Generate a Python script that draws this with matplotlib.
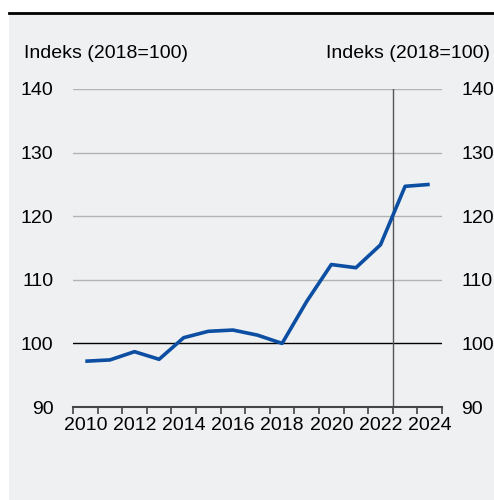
import numpy as np
import matplotlib.pyplot as plt
from matplotlib.patches import Rectangle
from matplotlib.lines import Line2D

plt.rcParams['font.family'] = ['Liberation Sans', 'DejaVu Sans']

years = [2010, 2011, 2012, 2013, 2014, 2015, 2016, 2017,
         2018, 2019, 2020, 2021, 2022, 2023, 2024]
index_vals = [97.2, 97.4, 98.7, 97.5, 100.9, 101.9, 102.1, 101.3,
              100.0, 106.6, 112.4, 111.9, 115.5, 124.7, 125.0]
y_ticks = [90, 100, 110, 120, 130, 140]
x_labels = [2010, 2012, 2014, 2016, 2018, 2020, 2022, 2024]
unit_label = 'Indeks (2018=100)'

bg = '#eff0f2'
line_col = '#0b4ea2'

fig = plt.figure(figsize=(4.94, 5.0), dpi=100)
fig.patch.set_facecolor('white')
# grey panel and the rule above it
fig.patches.append(Rectangle((9 / 494, 0), 1, 1 - 13 / 500, transform=fig.transFigure,
                             facecolor=bg, edgecolor='none', zorder=-5))
fig.lines.append(Line2D([9 / 494, 1], [1 - 12.5 / 500] * 2, transform=fig.transFigure,
                        color='black', lw=2, zorder=-4))

ax = fig.add_axes([73 / 494, 1 - 407 / 500, (442 - 73) / 494, (407 - 89) / 500])
ax.set_facecolor('none')
ax.set_zorder(2)

ax.set_xlim(2009.5, 2024.5)
ax.set_ylim(90, 140)

for yv in y_ticks[2:]:
    ax.axhline(yv, color='#b3b3b3', lw=1, zorder=1)
ax.axhline(100, color='black', lw=1, zorder=2)
ax.axvline(2022.5, color='#555555', lw=1, zorder=2)

ax.plot(years, index_vals, color=line_col, lw=2.6, zorder=3, solid_capstyle='butt')

for s in ['left', 'right', 'top']:
    ax.spines[s].set_visible(False)
ax.spines['bottom'].set_color('#444444')
ax.spines['bottom'].set_linewidth(1.5)

ax.set_xticks(x_labels)
ax.set_xticklabels([str(x) for x in x_labels])
ax.set_xticks(np.arange(2009.5, 2025, 1), minor=True)
ax.tick_params(axis='x', which='major', length=0, pad=7, labelsize=14)
ax.tick_params(axis='x', which='minor', length=5, width=1.2, color='#444444')

ax.set_yticks(y_ticks)
ax.tick_params(axis='y', length=0, labelsize=14, pad=14, labelleft=True, labelright=True)

fig.text(24 / 494, 1 - 53 / 500, unit_label, fontsize=14, ha='left', va='center')
fig.text(490 / 494, 1 - 53 / 500, unit_label, fontsize=14, ha='right', va='center')

fig.savefig('out.png', dpi=100, facecolor=fig.get_facecolor())
